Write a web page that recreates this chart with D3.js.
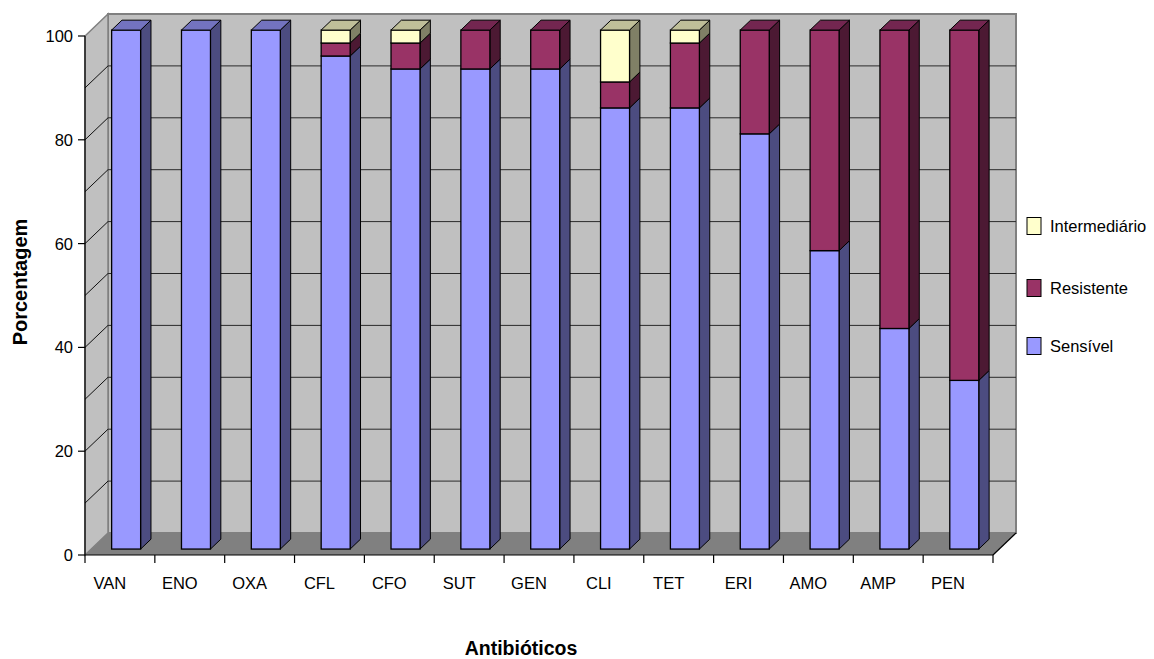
<!DOCTYPE html>
<html>
<head>
<meta charset="utf-8">
<script src="https://cdn.jsdelivr.net/npm/d3@7"></script>
<style>
  html, body { margin: 0; padding: 0; background: #fff; }
  svg { display: block; font-family: "Liberation Sans", Arial, sans-serif; }
</style>
</head>
<body>
<svg id="chart" width="1154" height="659"></svg>
<script>
// Antibiotic susceptibility profile (%), stacked by result
const categories = ["VAN", "ENO", "OXA", "CFL", "CFO", "SUT", "GEN", "CLI", "TET", "ERI", "AMO", "AMP", "PEN"];
const sensivel      = [100, 100, 100, 95, 92.5, 92.5, 92.5, 85, 85, 80, 57.5, 42.5, 32.5];
const resistente    = [0, 0, 0, 2.5, 5, 7.5, 7.5, 5, 12.5, 20, 42.5, 57.5, 67.5];
const intermediario = [0, 0, 0, 2.5, 2.5, 0, 0, 10, 2.5, 0, 0, 0, 0];
const yTicks = [0, 20, 40, 60, 80, 100];
const gridValues = [10, 20, 30, 40, 50, 60, 70, 80, 90];

const seriesKeys = ["Sensível", "Resistente", "Intermediário"];
const colors = {
  "Sensível":      { front: "#9999FF", top: "#7373BF", side: "#4C4C80" },
  "Resistente":    { front: "#993366", top: "#732650", side: "#4C1933" },
  "Intermediário": { front: "#FFFFCC", top: "#BFBF99", side: "#808066" }
};

const rows = categories.map((c, i) => ({
  cat: c,
  "Sensível": sensivel[i],
  "Resistente": resistente[i],
  "Intermediário": intermediario[i]
}));

const svg = d3.select("#chart");

// Front plane of the 3D box
const x = d3.scaleBand().domain(categories).range([85, 993]).padding(0);
const y = d3.scaleLinear().domain([0, 100]).range([555, 36]);
// Depth projection: fraction of depth -> pixel offset
const depthX = d3.scaleLinear().domain([0, 1]).range([0, 23]);
const depthY = d3.scaleLinear().domain([0, 1]).range([0, -22]);
const DX = depthX(1), DY = depthY(1);

const x0 = x.range()[0], x1 = x.range()[1];
const y0 = y(0), yTop = y(100);

const poly = pts => pts.map(p => p.join(",")).join(" ");

// Back wall
svg.append("polygon")
  .attr("points", poly([[x0 + DX, y0 + DY], [x1 + DX, y0 + DY], [x1 + DX, yTop + DY], [x0 + DX, yTop + DY]]))
  .attr("fill", "#C0C0C0").attr("stroke", "#808080").attr("stroke-width", 2);

// Left side wall
svg.append("polygon")
  .attr("points", poly([[x0, y0], [x0 + DX, y0 + DY], [x0 + DX, yTop + DY], [x0, yTop]]))
  .attr("fill", "#C0C0C0").attr("stroke", "#808080").attr("stroke-width", 1.5);

// Floor
svg.append("polygon")
  .attr("points", poly([[x0, y0], [x1, y0], [x1 + DX, y0 + DY], [x0 + DX, y0 + DY]]))
  .attr("fill", "#808080");

// Gridlines on back wall and side wall
const grid = svg.append("g");
gridValues.forEach(v => {
  grid.append("line")
    .attr("x1", x0 + DX).attr("x2", x1 + DX)
    .attr("y1", y(v) + DY).attr("y2", y(v) + DY)
    .attr("stroke", "#2a2a2a").attr("stroke-width", 1);
  grid.append("line")
    .attr("x1", x0).attr("x2", x0 + DX)
    .attr("y1", y(v)).attr("y2", y(v) + DY)
    .attr("stroke", "#111").attr("stroke-width", 1);
});

// Floor right edge
svg.append("line")
  .attr("x1", x1).attr("y1", y0).attr("x2", x1 + DX).attr("y2", y0 + DY)
  .attr("stroke", "#000").attr("stroke-width", 1.2);

// Bars
const stack = d3.stack().keys(seriesKeys);
const stacked = stack(rows);
const barW = 29;
const fFront = 0.27, fBack = 0.72;
const bars = svg.append("g");

rows.forEach((r, i) => {
  const c = x(r.cat) + x.bandwidth() / 2;
  const fx = c - barW / 2 + depthX(fFront);
  const ox = depthX(fBack) - depthX(fFront);
  const oy = depthY(fBack) - depthY(fFront);
  const fyShift = depthY(fFront);
  // topmost non-empty segment gets the top face
  let lastK = -1;
  stacked.forEach((s, k) => { if (s[i][1] - s[i][0] > 0) lastK = k; });
  stacked.forEach((s, k) => {
    const lo = s[i][0], hi = s[i][1];
    if (hi - lo <= 0) return;
    const col = colors[s.key];
    const yb = y(lo) + fyShift, yt = y(hi) + fyShift;
    // side face
    bars.append("polygon")
      .attr("points", poly([[fx + barW, yb], [fx + barW + ox, yb + oy], [fx + barW + ox, yt + oy], [fx + barW, yt]]))
      .attr("fill", col.side).attr("stroke", "#000").attr("stroke-width", 1).attr("stroke-linejoin", "round");
    // front face
    bars.append("rect")
      .attr("x", fx).attr("y", yt).attr("width", barW).attr("height", yb - yt)
      .attr("fill", col.front).attr("stroke", "#000").attr("stroke-width", 1.3);
    if (k === lastK) {
      bars.append("polygon")
        .attr("points", poly([[fx, yt], [fx + barW, yt], [fx + barW + ox, yt + oy], [fx + ox, yt + oy]]))
        .attr("fill", col.top).attr("stroke", "#000").attr("stroke-width", 1).attr("stroke-linejoin", "round");
    }
  });
});

// Value axis
const yAxisG = svg.append("g");
yAxisG.append("line")
  .attr("x1", x0).attr("x2", x0).attr("y1", yTop).attr("y2", y0)
  .attr("stroke", "#000").attr("stroke-width", 1.2);
yTicks.forEach(t => {
  yAxisG.append("line")
    .attr("x1", x0 - 7).attr("x2", x0).attr("y1", y(t)).attr("y2", y(t))
    .attr("stroke", "#000").attr("stroke-width", 1.2);
  yAxisG.append("text")
    .attr("x", 73).attr("y", y(t) + 6)
    .attr("text-anchor", "end").attr("font-size", 16.5).attr("fill", "#000")
    .text(t);
});

// Category axis
const xAxisG = svg.append("g");
xAxisG.append("line")
  .attr("x1", x0).attr("x2", x1).attr("y1", y0).attr("y2", y0)
  .attr("stroke", "#000").attr("stroke-width", 1.2);
const boundaries = categories.map(c => x(c)).concat([x1]);
boundaries.forEach(b => {
  xAxisG.append("line")
    .attr("x1", b).attr("x2", b).attr("y1", y0).attr("y2", y0 + 8)
    .attr("stroke", "#000").attr("stroke-width", 1.2);
});
categories.forEach(c => {
  xAxisG.append("text")
    .attr("x", x(c) + x.bandwidth() / 2 - 10).attr("y", 589)
    .attr("text-anchor", "middle").attr("font-size", 16.5).attr("fill", "#000")
    .text(c);
});

// Axis titles
svg.append("text")
  .attr("x", 521).attr("y", 655)
  .attr("text-anchor", "middle").attr("font-size", 19.5).attr("font-weight", "bold")
  .text("Antibióticos");
svg.append("text")
  .attr("transform", "translate(27,282) rotate(-90)")
  .attr("text-anchor", "middle").attr("font-size", 20).attr("font-weight", "bold")
  .text("Porcentagem");

// Legend
const legendItems = ["Intermediário", "Resistente", "Sensível"];
const legendY = [226, 288, 346];
const legend = svg.append("g");
legendItems.forEach((key, i) => {
  legend.append("rect")
    .attr("x", 1027).attr("y", legendY[i] - 8.5).attr("width", 14).attr("height", 17)
    .attr("fill", colors[key].front).attr("stroke", "#000").attr("stroke-width", 1);
  legend.append("text")
    .attr("x", 1050).attr("y", legendY[i] + 6)
    .attr("font-size", 16.5).attr("fill", "#000")
    .text(key);
});
</script>
</body>
</html>
